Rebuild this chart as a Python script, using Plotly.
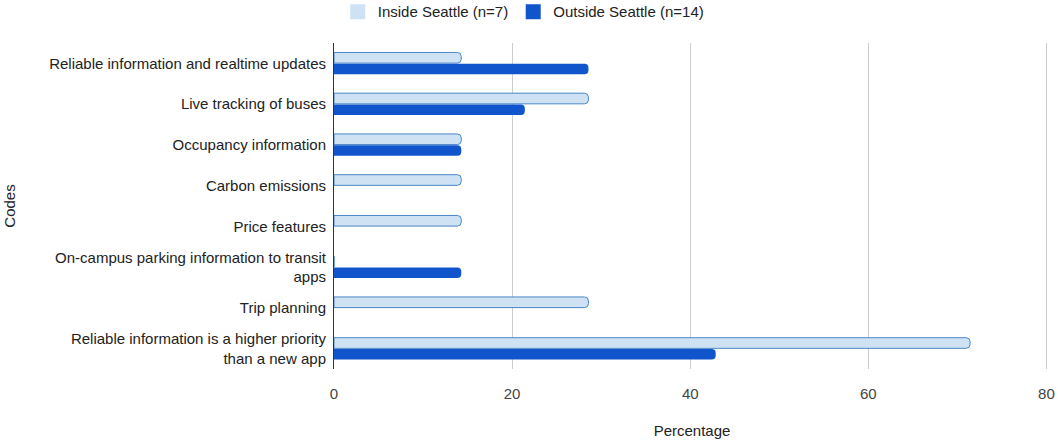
import plotly.graph_objects as go

categories = [
    "Reliable information and realtime updates",
    "Live tracking of buses",
    "Occupancy information",
    "Carbon emissions",
    "Price features",
    "On-campus parking information to transit<br>apps",
    "Trip planning",
    "Reliable information is a higher priority<br>than a new app",
]
inside_seattle = [14.29, 28.57, 14.29, 14.29, 14.29, 0, 28.57, 71.43]
outside_seattle = [28.57, 21.43, 14.29, 0, 0, 14.29, 0, 42.86]
x_ticks = [0, 20, 40, 60, 80]

FONT = "Arial, 'Liberation Sans', sans-serif"
FS = 15
INSIDE_FILL = "#cfe2f3"
INSIDE_LINE = "#4a86c8"
OUTSIDE_FILL = "#1155cc"

fig = go.Figure()
fig.add_trace(go.Bar(
    y=categories, x=inside_seattle, orientation="h",
    name="Inside Seattle (n=7)", showlegend=False,
    marker=dict(color=INSIDE_FILL, line=dict(color=INSIDE_LINE, width=1)),
))
fig.add_trace(go.Bar(
    y=categories, x=outside_seattle, orientation="h",
    name="Outside Seattle (n=14)", showlegend=False,
    marker=dict(color=OUTSIDE_FILL, line=dict(width=0)),
))
# legend entries with square swatches
fig.add_trace(go.Scatter(
    x=[None], y=[None], mode="markers", name="Inside Seattle (n=7)",
    marker=dict(symbol="square", size=15, color=INSIDE_FILL, line=dict(width=0)),
))
fig.add_trace(go.Scatter(
    x=[None], y=[None], mode="markers", name="Outside Seattle (n=14)",
    marker=dict(symbol="square", size=15, color=OUTSIDE_FILL, line=dict(width=0)),
))

fig.update_layout(
    width=1058, height=440,
    margin=dict(l=334, r=8, t=43, b=71, autoexpand=False),
    paper_bgcolor="white", plot_bgcolor="white",
    font=dict(family=FONT, size=FS, color="#222222"),
    barmode="group", bargap=0.45, bargroupgap=0.05,
    barcornerradius=4,
    showlegend=True,
    legend=dict(orientation="h", xref="container", yref="container",
                x=0.495, xanchor="center", y=0.973, yanchor="middle",
                font=dict(size=FS, color="#222222"), itemwidth=30),
    xaxis=dict(range=[0, 80.4], tickvals=x_ticks, showgrid=True,
               gridcolor="#cccccc", gridwidth=1, zeroline=False,
               ticks="", tickfont=dict(size=FS, color="#444444"),
               ticklabelstandoff=14,
               automargin=False, ticklabeloverflow="allow",
               title=dict(text="Percentage", font=dict(size=FS, color="#222222"), standoff=24)),
    yaxis=dict(autorange="reversed", showline=True, linecolor="#333333", linewidth=1,
               ticks="", showgrid=False, tickfont=dict(size=FS, color="#222222"),
               ticklabelstandoff=4, automargin=False,
               title=dict(text="Codes", font=dict(size=FS, color="#222222"), standoff=29)),
)

fig.write_html("out.html", config={"displayModeBar": False},
               post_script="document.body.style.margin='0';")
